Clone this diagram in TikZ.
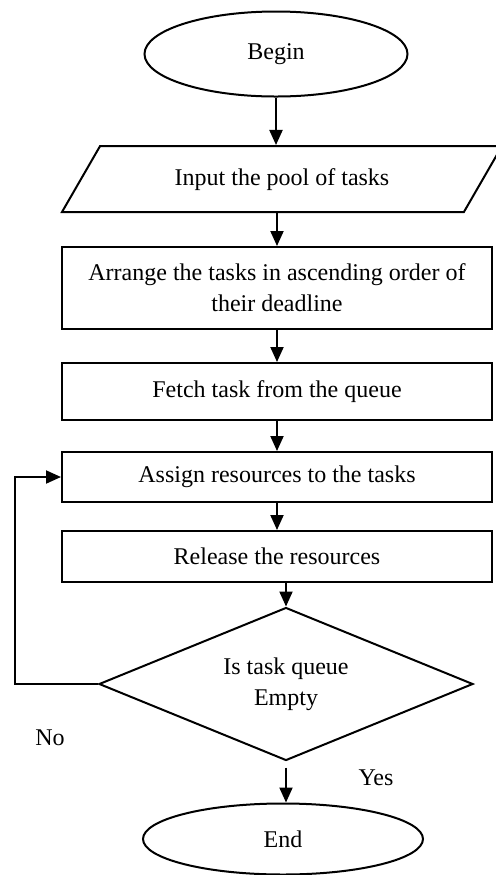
\documentclass[tikz,border=0pt]{standalone}
\usepackage{fontspec}
\setmainfont{Liberation Serif}
\usetikzlibrary{shapes.geometric,arrows.meta}

\tikzset{
  flow/.style={draw,line width=1pt,font=\fontsize{12}{15.5}\selectfont,align=center,inner sep=0pt},
  terminal/.style={flow,ellipse},
  procbox/.style={flow,rectangle,minimum width=215pt},
  iobox/.style={flow,trapezium,trapezium left angle=60,trapezium right angle=120,
    trapezium stretches body,text height=8.5pt,text depth=2.5pt,inner ysep=11pt},
  decision/.style={flow,diamond,aspect=2.44,minimum width=187pt,minimum height=76.5pt},
  link/.style={line width=1pt,-{Triangle[width=6.5pt,length=7.5pt]}},
  tag/.style={font=\fontsize{12}{14}\selectfont}
}

\begin{document}
\begin{tikzpicture}[x=0.5pt,y=-0.5pt]
  \useasboundingbox (0,0) rectangle (495,875);
  \node[terminal,minimum width=131.5pt,minimum height=42.5pt] (begin) at (276,54) {Begin};
  \node[iobox,minimum width=220pt] (input) at (282,179) {Input the pool of tasks};
  \node[procbox,minimum height=41pt] (arrange) at (277,288) {Arrange the tasks in ascending order of\\their deadline};
  \node[procbox,minimum height=28.5pt] (fetch) at (277,391.5) {Fetch task from the queue};
  \node[procbox,minimum height=25pt] (assign) at (277,477) {Assign resources to the tasks};
  \node[procbox,minimum height=25.5pt] (release) at (277,556.5) {Release the resources};
  \node[decision] (check) at (286,684) {Is task queue\\Empty};
  \node[terminal,minimum width=140pt,minimum height=35.5pt] (end) at (283,839) {End};
  \node[tag] (no) at (50,738) {No};
  \node[tag] (yes) at (376,778) {Yes};

  \draw[link] (begin.south) -- (begin.south |- input.north);
  \draw[link] (arrange.north |- input.south) -- (arrange.north);
  \draw[link] (arrange.south) -- (fetch.north);
  \draw[link] (fetch.south) -- (assign.north);
  \draw[link] (assign.south) -- (release.north);
  \draw[link] (check.north |- release.south) -- (check.north);
  \draw[link,shorten <=3pt] (check.south) -- (check.south |- end.north);
  \draw[link] (check.west) -- ++(-83,0) |- (assign.west);
\end{tikzpicture}
\end{document}
